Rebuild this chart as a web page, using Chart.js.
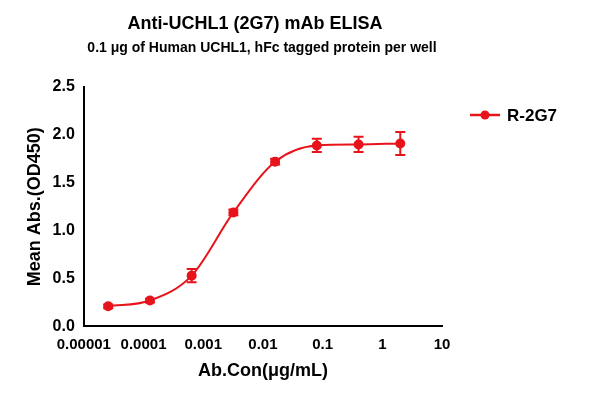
<!DOCTYPE html>
<html><head><meta charset="utf-8">
<script src="https://cdn.jsdelivr.net/npm/chart.js@4"></script>
<style>body{margin:0;background:#fff}#w{width:600px;height:403px}</style>
</head><body><div id="w"><canvas id="c"></canvas></div>
<script>
const concentrations=[0.0000256,0.000128,0.00064,0.0032,0.016,0.08,0.4,2];
const meanAbs=[0.21,0.27,0.53,1.19,1.72,1.89,1.90,1.91];
const errAbs=[0.02,0.02,0.07,0.03,0.03,0.07,0.08,0.12];
const xTicks=[0.00001,0.0001,0.001,0.01,0.1,1,10];
const titleText='Anti-UCHL1 (2G7) mAb ELISA';
const subtitleText='0.1 μg of Human UCHL1, hFc tagged protein per well';
const red='#e8141b';
const F='Arial, Liberation Sans';
const errPlugin={id:'err',afterDatasetsDraw(ch){const x=ch.scales.x,y=ch.scales.y,ctx=ch.ctx;ctx.save();ctx.strokeStyle=red;ctx.lineWidth=2;
concentrations.forEach((c,i)=>{const px=x.getPixelForValue(c),t=y.getPixelForValue(meanAbs[i]+errAbs[i]),b=y.getPixelForValue(meanAbs[i]-errAbs[i]);ctx.beginPath();ctx.moveTo(px,t);ctx.lineTo(px,b);ctx.moveTo(px-5,t);ctx.lineTo(px+5,t);ctx.moveTo(px-5,b);ctx.lineTo(px+5,b);ctx.stroke();});
const lx=470,ly=115;ctx.lineWidth=2.5;ctx.beginPath();ctx.moveTo(lx,ly);ctx.lineTo(lx+30,ly);ctx.stroke();ctx.fillStyle=red;ctx.beginPath();ctx.arc(lx+15,ly,4.5,0,Math.PI*2);ctx.fill();
ctx.fillStyle='#000';ctx.textBaseline='middle';ctx.font='bold 17px '+F;ctx.fillText(ch.data.datasets[0].label,lx+37,ly+1);
ctx.textAlign='center';ctx.font='bold 18px '+F;ctx.fillText(titleText,255,24);ctx.font='bold 14px '+F;ctx.fillText(subtitleText,262,48);
ctx.restore();}};
new Chart(document.getElementById('c'),{type:'line',
data:{datasets:[{label:'R-2G7',data:concentrations.map((c,i)=>({x:c,y:meanAbs[i]})),borderColor:red,backgroundColor:red,pointRadius:4,borderWidth:2,cubicInterpolationMode:'monotone'}]},
options:{responsive:true,maintainAspectRatio:false,animation:false,
layout:{padding:{left:20,right:158,top:87,bottom:17}},
plugins:{legend:{display:false},tooltip:{enabled:false}},
scales:{x:{type:'logarithmic',min:0.00001,max:10,afterBuildTicks(s){s.ticks=xTicks.map(v=>({value:v}));},
ticks:{callback:v=>String(v),color:'#000',font:{family:F,size:15,weight:'bold'},maxRotation:0,autoSkip:false},
grid:{display:false,drawTicks:true,tickLength:6,tickColor:'#000'},border:{color:'#000',width:2},
title:{display:true,text:'Ab.Con(μg/mL)',color:'#000',font:{family:F,size:18,weight:'bold'},padding:{top:4}}},
y:{min:0,max:2.5,ticks:{stepSize:0.5,callback:v=>v.toFixed(1),color:'#000',font:{family:F,size:16,weight:'bold'}},
grid:{display:false,tickLength:6,tickColor:'#000'},border:{color:'#000',width:2},
title:{display:true,text:'Mean Abs.(OD450)',color:'#000',font:{family:F,size:18,weight:'bold'}}}}},
plugins:[errPlugin]});
</script></body></html>
